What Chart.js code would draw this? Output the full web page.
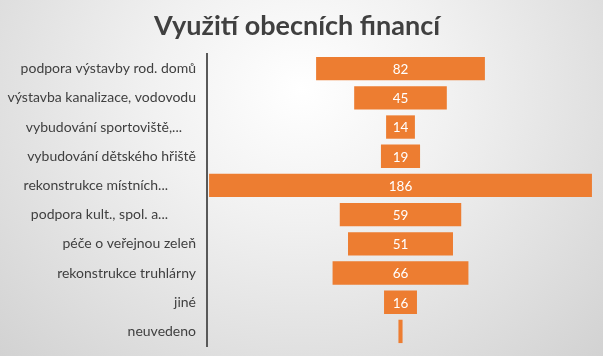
<!DOCTYPE html>
<html>
<head>
<meta charset="utf-8">
<script src="https://cdn.jsdelivr.net/npm/chart.js@4"></script>
<style>
  html, body { margin: 0; padding: 0; }
  body { width: 603px; height: 356px; overflow: hidden;
    background: radial-gradient(ellipse at 50% 25%, #ffffff 0%, #f1f1f1 35%, #d2d2d2 100%); }
  #wrap { width: 603px; height: 356px; position: relative; }
</style>
</head>
<body>
<div id="wrap"><canvas id="c" width="603" height="356"></canvas></div>
<script>
const title = 'Využití obecních financí';
const categories = [
  'podpora výstavby rod. domů',
  'výstavba kanalizace, vodovodu',
  'vybudování sportoviště,...',
  'vybudování dětského hřiště',
  'rekonstrukce místních...',
  'podpora kult., spol. a...',
  'péče o veřejnou zeleň',
  'rekonstrukce truhlárny',
  'jiné',
  'neuvedeno'
];
const values = [82, 45, 14, 19, 186, 59, 51, 66, 16, 2];
const showValue = [true, true, true, true, true, true, true, true, true, false];
const truncatedPad = { 2: 2, 4: 4, 5: 4 }; // label shift (in en-spaces) for Excel-truncated labels

const FONT = 'Lato, "Open Sans", sans-serif';

const valueLabels = {
  id: 'valueLabels',
  afterDatasetsDraw(chart) {
    const ctx = chart.ctx;
    const meta = chart.getDatasetMeta(0);
    ctx.save();
    ctx.fillStyle = '#ffffff';
    ctx.font = '13.5px ' + FONT;
    ctx.textAlign = 'center';
    ctx.textBaseline = 'middle';
    meta.data.forEach((el, i) => {
      if (!showValue[i]) return;
      const p = el.getProps(['x', 'y', 'base'], true);
      ctx.fillText(String(values[i]), (p.x + p.base) / 2, p.y + 1);
    });
    ctx.restore();
  }
};

new Chart(document.getElementById('c'), {
  type: 'bar',
  data: {
    labels: categories,
    datasets: [{
      data: values.map(v => [-v / 2, v / 2]),
      backgroundColor: '#ED7D31',
      borderWidth: 0,
      barPercentage: 0.8,
      categoryPercentage: 1.0
    }]
  },
  options: {
    indexAxis: 'y',
    responsive: false,
    animation: false,
    layout: { padding: { left: 0, right: 9, top: 11, bottom: 10 } },
    plugins: {
      legend: { display: false },
      tooltip: { enabled: false },
      title: {
        display: true,
        text: title,
        color: '#404040',
        font: { family: FONT, size: 27, weight: 'bold', lineHeight: 1.15 },
        padding: { top: 0, bottom: 12 }
      }
    },
    scales: {
      x: {
        display: false,
        min: -94,
        max: 94
      },
      y: {
        grid: { display: false, drawTicks: true, tickLength: 11 },
        border: { display: true, color: '#595959', width: 2 },
        ticks: {
          color: '#404040',
          font: { family: FONT, size: 14 },
          padding: 0,
          callback: function (val, i) {
            const pad = truncatedPad[i] || 0;
            return categories[i] + '\u2002'.repeat(pad);
          }
        },
        afterFit: function (s) { s.width = 207; }
      }
    }
  },
  plugins: [valueLabels]
});
</script>
</body>
</html>
